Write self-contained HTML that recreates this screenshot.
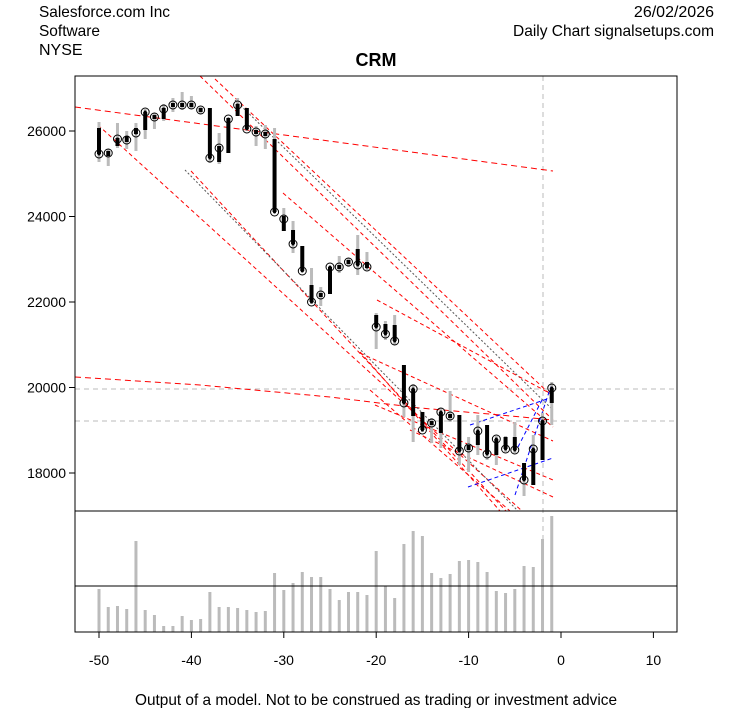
<!DOCTYPE html>
<html><head><meta charset="utf-8"><style>
body{margin:0;background:#fff;width:753px;height:708px;overflow:hidden;font-family:"Liberation Sans",Arial,sans-serif}
svg text{font-family:"Liberation Sans",Arial,sans-serif}
</style></head><body>
<svg id="s" width="753" height="708" xmlns="http://www.w3.org/2000/svg">
<text x="39" y="17" font-size="16" textLength="131" lengthAdjust="spacingAndGlyphs">Salesforce.com Inc</text>
<text x="39" y="36" font-size="16" textLength="61" lengthAdjust="spacingAndGlyphs">Software</text>
<text x="39" y="55" font-size="16">NYSE</text>
<text x="714" y="17" font-size="16" text-anchor="end">26/02/2026</text>
<text x="513" y="36" font-size="16" textLength="201" lengthAdjust="spacingAndGlyphs">Daily Chart signalsetups.com</text>
<text x="376" y="66" font-size="18" font-weight="bold" text-anchor="middle">CRM</text>
<text x="135" y="705" font-size="16" textLength="482" lengthAdjust="spacingAndGlyphs">Output of a model. Not to be construed as trading or investment advice</text>
<g id="g"></g>
<rect x="75" y="76" width="602" height="556" fill="none" stroke="#000"/>
<line x1="75" y1="511" x2="677" y2="511" stroke="#000"/>
<line x1="75" y1="586" x2="677" y2="586" stroke="#000"/>
</svg>
<script>
var g=document.getElementById('g'),h='';
function L(a,b,c,d,col,w,da){h+='<line x1="'+a+'" y1="'+b+'" x2="'+c+'" y2="'+d+'" stroke="'+col+'" stroke-width="'+(w||1)+'"'+(da?' stroke-dasharray="'+da+'"':'')+'/>';}
[26000,24000,22000,20000,18000].forEach(function(v){var y=131+(26000-v)*0.04275;L(69,y,75,y,'#000');h+='<text x="66" y="'+(y+5)+'" font-size="14" text-anchor="end">'+v+'</text>';});
[-50,-40,-30,-20,-10,0,10].forEach(function(v){var x=561+v*9.24;L(x,632,x,638,'#000');h+='<text x="'+x+'" y="665" font-size="14" text-anchor="middle">'+v+'</text>';});
L(543,76,543,632,'#bbb',1,'5,4');L(75,389,677,389,'#bbb',1,'5,4');L(75,421,677,421,'#bbb',1,'5,4');
var vol=[589,607,606,609,541,610,615,626,626,616,620,619,592,607,607,608,610,612,611,573,590,583,572,577,577,589,600,592,592,595,551,586,598,544,531,536,573,578,574,561,560,562,572,591,593,589,566,567,539,516];
var c=[[128,154,154,122,162],[151,156,153,149,166],[138,146,139,123,148],[136,142,140,131,149],[128,134,133,123,151],[112,130,112,109,139],[115,119,117,113,129],[108,119,109,104,121],[103,107,105,98,112],[103,107,105,92,110],[103,107,105,96,109],[108,112,110,107,114],[108,158,158,108,163],[146,162,148,133,164],[118,153,119,118,153],[104,116,105,98,116],[108,129,129,108,130],[130,134,132,126,146],[132,136,134,125,149],[139,212,212,128,213],[216,231,219,208,231],[230,244,244,221,253],[246,271,271,246,272],[285,302,302,268,304],[293,297,295,287,306],[267,294,267,267,294],[265,269,267,256,273],[260,264,262,258,267],[249,265,265,235,275],[262,268,267,252,270],[315,327,327,313,349],[324,334,334,321,340],[325,341,341,315,345],[365,403,403,365,417],[389,416,389,384,442],[412,430,430,412,432],[421,425,423,418,443],[412,433,412,408,448],[414,418,416,391,422],[415,451,451,415,465],[445,450,448,437,472],[431,445,431,415,455],[425,454,454,425,460],[439,455,439,436,465],[437,449,449,436,452],[437,450,450,422,453],[463,480,480,463,496],[449,485,449,435,485],[421,460,421,413,460],[388,403,388,382,425]];
var R='#f00',B='#00f',D='4,3';
L(75,107,553,171,R,1,'6,4');
h+='<path d="M75,377 L200,385 L330,397 L420,408 L500,415 L553,420" fill="none" stroke="'+R+'" stroke-dasharray="6,4"/>';
L(98,125,522,511,R,1,D);L(191,171,506,511,R,1,D);
L(200,76,553,420,R,1,D);L(215,79,553,397,R,1,D);L(283,193,553,427,R,1,D);
L(235,100,553,410,'#555',1,'2,2');L(185,170,518,511,'#555',1,'2,2');
L(377,300,553,395,R,1,D);L(375,405,553,480,R,1,D);L(410,430,553,497,R,1,D);L(360,353,553,441,R,1,D);
L(360,352,500,511,R,1,D);L(370,390,510,511,R,1,D);
L(468,487,553,458,B,1,D);L(470,425,553,397,B,1,D);L(515,495,552,383,B,1,D);L(518,447,542,400,B,1,D);
for(var i=0;i<50;i++){var x=99+i*9.24;var k=c[i];
 L(x,vol[i],x,632,'#bbb',3);
 L(x,k[3],x,k[4],'#bbb',3);
 L(x,k[0],x,Math.max(k[1],k[0]+2),'#000',4);
 h+='<circle cx="'+x+'" cy="'+k[2]+'" r="4" fill="none" stroke="#000" stroke-width="1"/><circle cx="'+x+'" cy="'+k[2]+'" r="1.5" fill="#000"/>';}
g.innerHTML=h;
</script>
</body></html>
